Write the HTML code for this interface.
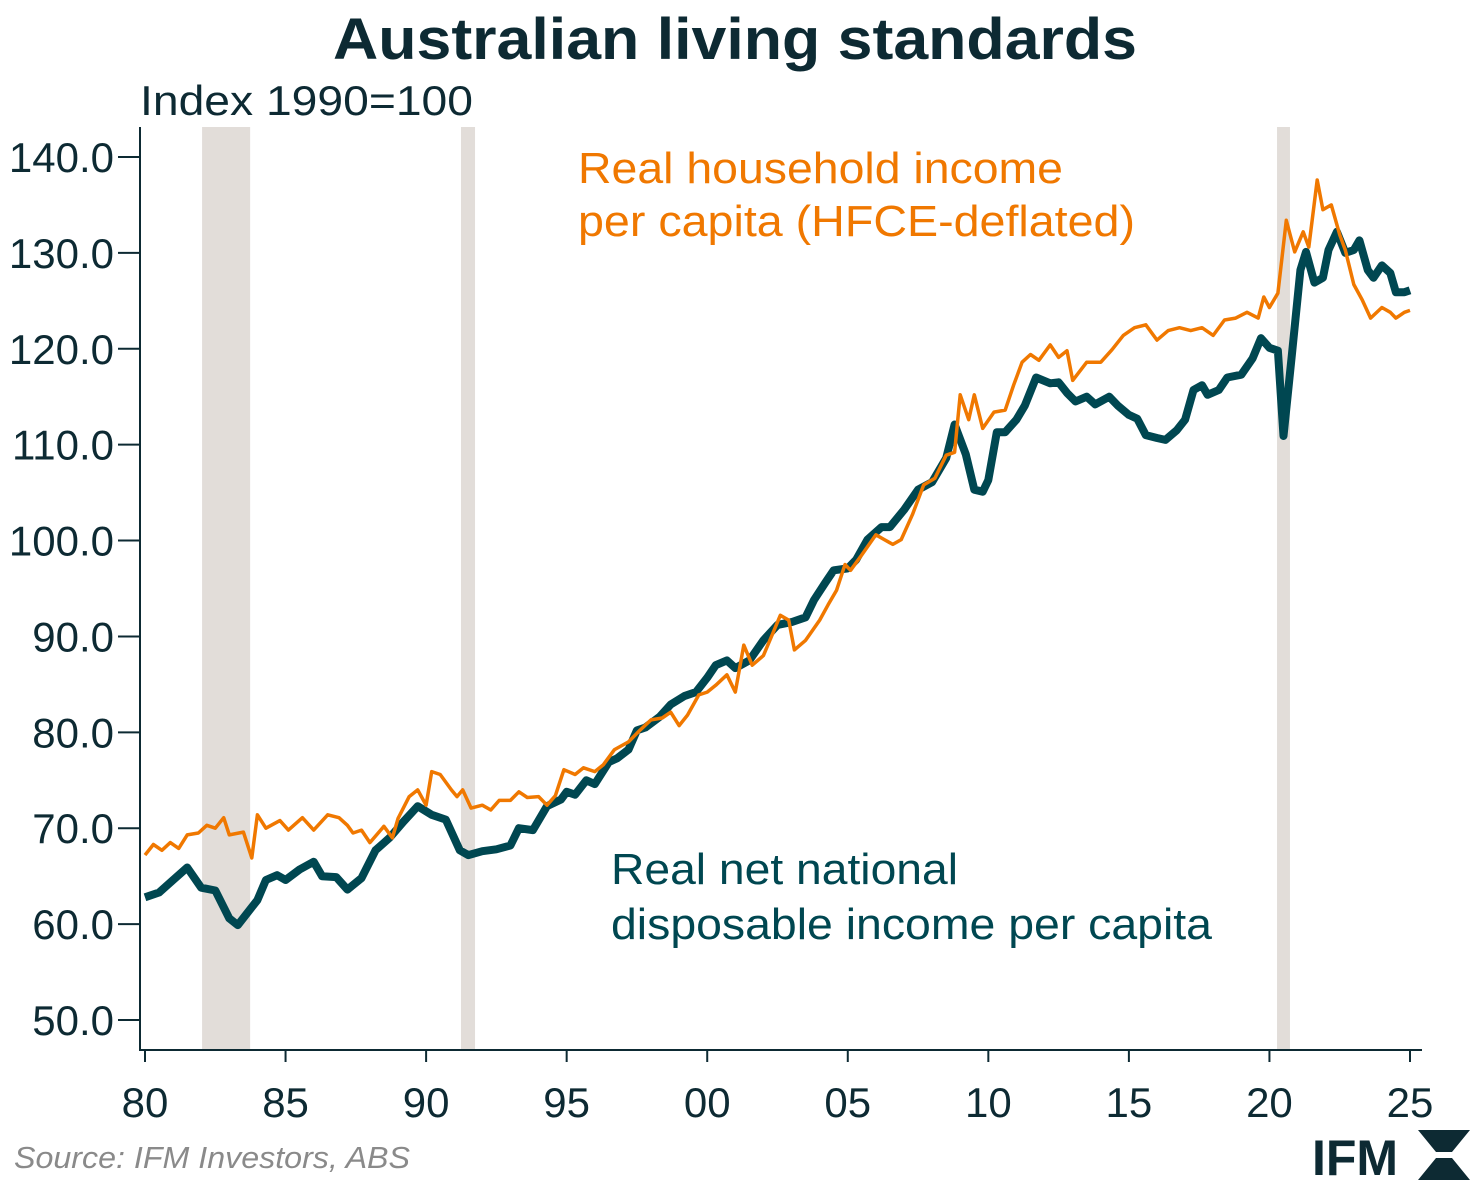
<!DOCTYPE html>
<html><head><meta charset="utf-8"><style>
body{margin:0;background:#fff;}
svg{display:block;font-family:"Liberation Sans",sans-serif;}
</style></head><body>
<svg id="chart" width="1472" height="1190" viewBox="0 0 1472 1190">
<text x="333" y="59" font-size="58" font-weight="bold" fill="#0d2a33" textLength="804" lengthAdjust="spacingAndGlyphs">Australian living standards</text>
<text x="140" y="115" font-size="42" fill="#0d2a33" textLength="333" lengthAdjust="spacingAndGlyphs">Index 1990=100</text>
<g id="rec"></g>
<g id="axes"></g>
<g id="lines"></g>
<text x="578" y="183" font-size="44" fill="#f07800" textLength="485" lengthAdjust="spacingAndGlyphs">Real household income</text>
<text x="578" y="236" font-size="44" fill="#f07800" textLength="557" lengthAdjust="spacingAndGlyphs">per capita (HFCE-deflated)</text>
<text x="611" y="884" font-size="44" fill="#004751" textLength="347" lengthAdjust="spacingAndGlyphs">Real net national</text>
<text x="611" y="939" font-size="44" fill="#004751" textLength="601" lengthAdjust="spacingAndGlyphs">disposable income per capita</text>
<text x="14" y="1168" font-size="31" font-style="italic" fill="#8a8a8a" textLength="396" lengthAdjust="spacingAndGlyphs">Source: IFM Investors, ABS</text>
<g>
<text x="1312" y="1175" font-size="50" font-weight="bold" fill="#0d2a33">IFM</text>
<path d="M1418 1130 h52 l-18 22 h-16 z M1418 1180 h52 l-18 -22 h-16 z" fill="#0d2a33"/>
</g>
</svg>
<script>
const yTicks=[50,60,70,80,90,100,110,120,130,140];
const xTicks=[1980,1985,1990,1995,2000,2005,2010,2015,2020,2025];
const xTickLabels=["80","85","90","95","00","05","10","15","20","25"];
const recessions=[[1982.03,1983.74],[1991.24,1991.74],[2020.27,2020.73]];
const tealYears=[1980.0,1980.5,1981.0,1981.5,1982.0,1982.5,1983.0,1983.3,1984.0,1984.3,1984.7,1985.0,1985.5,1986.0,1986.3,1986.8,1987.2,1987.7,1988.2,1988.7,1989.2,1989.7,1990.2,1990.7,1991.2,1991.5,1992.0,1992.5,1993.0,1993.3,1993.8,1994.3,1994.8,1995.0,1995.3,1995.7,1996.0,1996.5,1996.8,1997.2,1997.5,1997.8,1998.3,1998.7,1999.2,1999.6,2000.0,2000.3,2000.7,2001.0,2001.5,2002.0,2002.5,2003.0,2003.5,2003.8,2004.2,2004.5,2005.0,2005.3,2005.7,2006.2,2006.5,2007.0,2007.5,2008.0,2008.5,2008.8,2009.2,2009.5,2009.8,2010.0,2010.3,2010.6,2011.0,2011.3,2011.7,2012.2,2012.5,2012.8,2013.1,2013.5,2013.8,2014.3,2014.6,2015.0,2015.3,2015.6,2016.0,2016.3,2016.7,2017.0,2017.3,2017.6,2017.8,2018.2,2018.5,2019.0,2019.4,2019.7,2020.0,2020.3,2020.5,2020.8,2021.1,2021.3,2021.6,2021.9,2022.1,2022.4,2022.7,2023.0,2023.2,2023.5,2023.7,2024.0,2024.3,2024.5,2024.8,2025.0];
const tealValues=[62.8,63.3,64.6,65.9,63.8,63.5,60.6,59.9,62.5,64.6,65.1,64.6,65.7,66.5,65.0,64.9,63.6,64.8,67.7,69.0,70.7,72.3,71.4,70.9,67.7,67.2,67.6,67.8,68.2,70.0,69.8,72.3,73.0,73.8,73.5,75.0,74.6,76.9,77.3,78.2,80.2,80.5,81.6,82.9,83.8,84.2,85.7,87.0,87.5,86.7,87.5,89.6,91.2,91.5,92.0,93.8,95.6,96.9,97.1,98.0,100.1,101.4,101.4,103.2,105.3,106.1,108.6,112.1,109.0,105.3,105.1,106.3,111.3,111.3,112.6,114.1,117.0,116.4,116.5,115.4,114.5,115.0,114.2,115.0,114.1,113.1,112.7,111.0,110.7,110.5,111.5,112.6,115.7,116.2,115.2,115.7,117.0,117.3,119.0,121.1,120.1,119.8,110.9,119.4,128.2,130.1,126.9,127.4,130.3,132.2,130.0,130.3,131.3,128.2,127.4,128.7,127.9,125.9,125.9,126.1];
const orangeYears=[1980.0,1980.3,1980.6,1980.9,1981.2,1981.5,1981.9,1982.2,1982.5,1982.8,1983.0,1983.5,1983.8,1984.0,1984.3,1984.8,1985.1,1985.6,1986.0,1986.5,1986.9,1987.2,1987.4,1987.7,1988.0,1988.5,1988.8,1989.0,1989.4,1989.7,1990.0,1990.2,1990.5,1990.9,1991.1,1991.3,1991.6,1992.0,1992.3,1992.6,1993.0,1993.3,1993.6,1994.0,1994.3,1994.6,1994.9,1995.3,1995.6,1996.0,1996.3,1996.7,1997.2,1997.6,1998.0,1998.4,1998.7,1999.0,1999.3,1999.7,2000.0,2000.3,2000.7,2001.0,2001.3,2001.6,2002.0,2002.3,2002.6,2002.9,2003.1,2003.5,2004.0,2004.3,2004.6,2004.9,2005.1,2005.5,2006.0,2006.3,2006.6,2006.9,2007.3,2007.7,2008.1,2008.5,2008.8,2009.0,2009.3,2009.5,2009.8,2010.2,2010.6,2010.9,2011.2,2011.5,2011.8,2012.2,2012.5,2012.8,2013.0,2013.5,2014.0,2014.4,2014.8,2015.2,2015.6,2016.0,2016.4,2016.8,2017.2,2017.6,2018.0,2018.4,2018.8,2019.2,2019.6,2019.8,2020.0,2020.3,2020.6,2020.9,2021.2,2021.4,2021.7,2021.9,2022.2,2022.5,2022.7,2023.0,2023.3,2023.6,2024.0,2024.3,2024.5,2024.8,2025.0];
const orangeValues=[67.2,68.3,67.7,68.5,67.9,69.3,69.5,70.3,70.0,71.1,69.3,69.6,66.9,71.4,70.0,70.8,69.8,71.1,69.8,71.4,71.1,70.3,69.5,69.8,68.5,70.2,69.0,71.0,73.3,74.0,72.4,75.9,75.6,74.0,73.3,74.0,72.1,72.4,71.9,72.9,72.9,73.8,73.2,73.3,72.4,73.4,76.1,75.6,76.3,75.9,76.6,78.2,79.0,80.2,81.3,81.5,82.1,80.7,81.8,83.9,84.2,84.9,86.0,84.2,89.1,87.0,88.0,90.1,92.2,91.7,88.6,89.6,91.7,93.3,94.8,97.5,96.9,98.5,100.6,100.1,99.6,100.1,102.7,105.8,106.5,108.9,109.2,115.2,112.6,115.2,111.7,113.4,113.6,116.2,118.6,119.4,118.8,120.4,119.1,119.8,116.7,118.6,118.6,119.9,121.4,122.2,122.5,120.9,121.9,122.2,121.9,122.2,121.4,123.0,123.2,123.8,123.2,125.4,124.3,125.8,133.4,130.1,132.2,130.6,137.6,134.5,135.0,131.9,130.3,126.7,125.1,123.2,124.3,123.8,123.2,123.8,124.0];

const NS='http://www.w3.org/2000/svg';
const X=y=>145+(y-1980)*(1410-145)/45;
const Y=v=>1020-(v-50)*(1020-157)/90;
function mk(tag,attrs,parent){const e=document.createElementNS(NS,tag);for(const k in attrs)e.setAttribute(k,attrs[k]);parent.appendChild(e);return e;}
const rec=document.getElementById('rec'),axes=document.getElementById('axes'),lines=document.getElementById('lines');
recessions.forEach(r=>{
 const e=mk('rect',{x:X(r[0]),y:127,width:X(r[1])-X(r[0]),height:923,fill:'#e2ddd9'},rec);
 
 
});
mk('line',{x1:140,y1:127,x2:140,y2:1051,stroke:'#0d2a33','stroke-width':2},axes);
mk('line',{x1:139,y1:1050,x2:1422,y2:1050,stroke:'#0d2a33','stroke-width':2},axes);
yTicks.forEach(v=>{
 mk('line',{x1:118,y1:Y(v),x2:140,y2:Y(v),stroke:'#0d2a33','stroke-width':2},axes);
 const t=mk('text',{x:114,y:Y(v)+15,'text-anchor':'end','font-size':42,fill:'#0d2a33'},axes);
 t.textContent=v.toFixed(1);
 
 
});
xTicks.forEach((yr,i)=>{
 mk('line',{x1:X(yr),y1:1050,x2:X(yr),y2:1062,stroke:'#0d2a33','stroke-width':2},axes);
 const t=mk('text',{x:X(yr),y:1117,'text-anchor':'middle','font-size':42,fill:'#0d2a33'},axes);
 t.textContent=xTickLabels[i];
 
 
});
function line(xs,vs,color,w,name){
 const d=xs.map((x,i)=>(i?'L':'M')+X(x).toFixed(1)+' '+Y(vs[i]).toFixed(1)).join(' ');
 const p=mk('path',{d:d,fill:'none',stroke:color,'stroke-width':w,'stroke-linejoin':'round'},lines);
 
 
}
line(tealYears,tealValues,'#004751',8,'line-net-national-income');
line(orangeYears,orangeValues,'#f07800',3.5,'line-household-income');
</script>
</body></html>
